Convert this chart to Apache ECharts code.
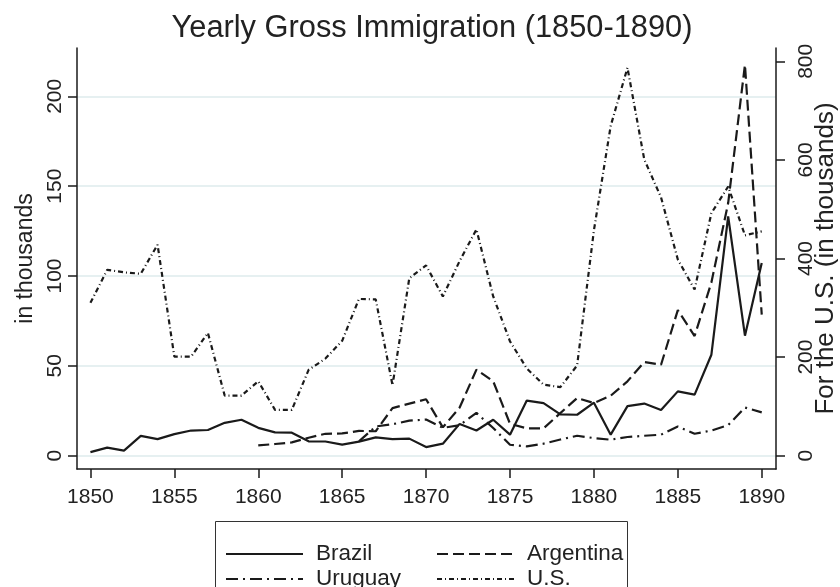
<!DOCTYPE html>
<html>
<head>
<meta charset="utf-8">
<script src="https://cdn.jsdelivr.net/npm/echarts@6/dist/echarts.min.js"></script>
<style>
html,body{margin:0;padding:0;background:#fff;}
#chart{width:840px;height:587px;}
</style>
</head>
<body>
<div id="chart"></div>
<script>
const years = [1850,1851,1852,1853,1854,1855,1856,1857,1858,1859,
  1860,1861,1862,1863,1864,1865,1866,1867,1868,1869,
  1870,1871,1872,1873,1874,1875,1876,1877,1878,1879,
  1880,1881,1882,1883,1884,1885,1886,1887,1888,1889,1890];

const brazil = [2.0,4.5,2.8,11.0,9.2,12.0,14.0,14.3,18.3,20.0,
  15.5,13.0,12.8,8.0,7.9,6.2,7.8,10.2,9.2,9.5,
  4.8,6.7,17.7,14.0,20.0,11.7,30.7,29.3,23.0,22.8,
  29.5,11.7,27.6,29.0,25.4,35.8,34.0,56.2,133.2,66.8,107.2];

const argentina = [null,null,null,null,null,null,null,null,null,null,
  5.7,6.5,7.4,10.0,12.2,12.4,13.8,13.6,26.5,29.0,
  31.4,15.8,26.8,47.9,41.4,17.8,15.2,15.2,23.7,32.1,
  29.3,33.4,41.4,52.1,50.6,81.0,66.6,96.4,140.6,217.6,78.5];

const uruguay = [null,null,null,null,null,null,null,null,null,null,
  null,null,null,null,null,null,8.0,16.3,17.5,19.5,
  20.1,15.5,17.0,23.8,15.4,6.1,5.2,6.7,9.0,11.1,
  9.8,8.9,10.4,11.1,11.7,16.2,12.2,14.0,17.0,26.8,24.1];

const us = [310,377,372,369,428,201,201,249,122,122,
  151,93,93,174,197,233,318,317,143,360,
  386,323,395,459,323,232,177,144,139,183,
  457,669,787,601,524,398,337,492,546,447,455];

const xTicks = [1850,1855,1860,1865,1870,1875,1880,1885,1890];
const leftTicks = [0,50,100,150,200];
const rightTicks = [0,200,400,600,800];

const pairs = (vals) => years.map((y, i) => [y, vals[i]]).filter(p => p[1] !== null);

const FONT = 'Liberation Sans, Arial, Helvetica, sans-serif';
const INK = '#1a1a1a';
const TXT = '#222';

const chart = echarts.init(document.getElementById('chart'), null, {renderer: 'canvas'});

const mkLine = (name, vals, dash, yIdx) => ({
  name: name,
  type: 'line',
  yAxisIndex: yIdx,
  data: pairs(vals),
  symbol: 'none',
  showSymbol: false,
  animation: false,
  lineStyle: {color: INK, width: 2.2, type: dash},
  itemStyle: {color: INK}
});

const mkLegend = (name, left, cy) => ({
  data: [name],
  left: left,
  top: cy - 10,
  padding: 0,
  orient: 'horizontal',
  itemWidth: 77,
  itemHeight: 14,
  itemStyle: {opacity: 0},
  textStyle: {fontFamily: FONT, fontSize: 22.5, color: TXT, padding: [0,0,0,8], lineHeight: 24},
  selectedMode: false
});

chart.setOption({
  backgroundColor: '#fff',
  animation: false,
  title: {
    text: 'Yearly Gross Immigration (1850-1890)',
    left: 427,
    textAlign: 'center',
    top: 8,
    textStyle: {fontFamily: FONT, fontSize: 30.8, fontWeight: 'normal', color: TXT}
  },
  grid: {left: 77, right: 64, top: 48, bottom: 118, containLabel: false, outerBoundsMode: 'none'},
  xAxis: {
    type: 'value',
    min: 1849.2,
    max: 1890.85,
    axisLine: {show: true, onZero: false, lineStyle: {color: INK, width: 1.5}},
    axisTick: {show: true, length: 9, customValues: xTicks, lineStyle: {color: INK, width: 1.5}},
    axisLabel: {customValues: xTicks, formatter: v => String(v), margin: 18, fontFamily: FONT, fontSize: 21, color: TXT},
    splitLine: {show: false}
  },
  yAxis: [
    {
      type: 'value',
      position: 'left',
      min: -7.4,
      max: 226.9,
      name: 'in thousands',
      nameLocation: 'middle',
      nameGap: 40,
      nameMoveOverlap: false,
      nameTextStyle: {fontFamily: FONT, fontSize: 23, color: TXT},
      axisLine: {show: true, onZero: false, lineStyle: {color: INK, width: 1.5}},
      axisTick: {show: true, length: 9, customValues: leftTicks, lineStyle: {color: INK, width: 1.5}},
      axisLabel: {customValues: leftTicks, formatter: v => String(v), rotate: 90, margin: 11, fontFamily: FONT, fontSize: 21, color: TXT},
      splitLine: {show: true, lineStyle: {color: '#e6f0f1', width: 2}}
    },
    {
      type: 'value',
      position: 'right',
      min: -27,
      max: 827,
      name: 'For the U.S. (in thousands)',
      nameLocation: 'middle',
      nameGap: 37,
      nameMoveOverlap: false,
      nameTextStyle: {fontFamily: FONT, fontSize: 26, color: TXT},
      axisLine: {show: true, onZero: false, lineStyle: {color: INK, width: 1.5}},
      axisTick: {show: true, length: 9, customValues: rightTicks, lineStyle: {color: INK, width: 1.5}},
      axisLabel: {customValues: rightTicks, formatter: v => String(v), rotate: 90, margin: 20, fontFamily: FONT, fontSize: 21, color: TXT},
      splitLine: {show: false}
    }
  ],
  legend: [
    mkLegend('Brazil', 225, 552),
    mkLegend('Uruguay', 225, 577),
    mkLegend('Argentina', 436, 552),
    mkLegend('U.S.', 436, 577)
  ],
  graphic: [
    {
      type: 'rect',
      shape: {x: 215.5, y: 521.5, width: 412, height: 90},
      style: {fill: 'none', stroke: '#333', lineWidth: 1},
      silent: true
    }
  ],
  series: [
    mkLine('Brazil', brazil, 'solid', 0),
    mkLine('Argentina', argentina, [11, 5], 0),
    mkLine('Uruguay', uruguay, [12, 5, 2, 5], 0),
    mkLine('U.S.', us, [5, 3, 1, 3], 1)
  ]
});
</script>
</body>
</html>
